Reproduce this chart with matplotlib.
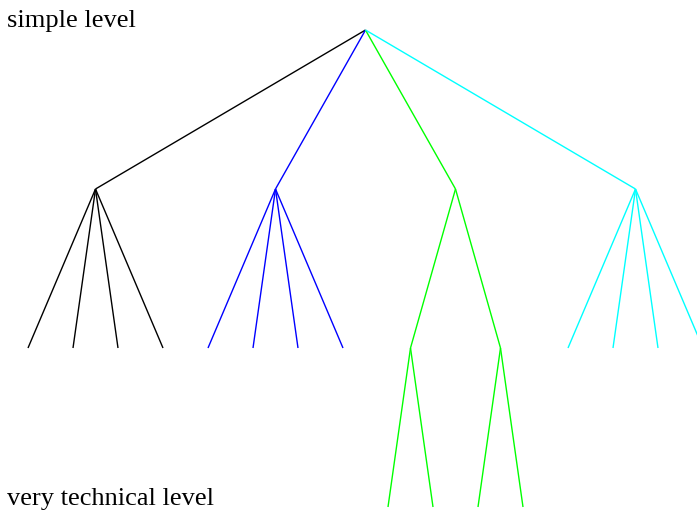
#!/usr/bin/env python3
"""Tree of topics, from the simple level down to the very technical level."""

import matplotlib
matplotlib.use("Agg")
import matplotlib.pyplot as plt


# one branch per colour below the root; an int is a node with that many leaves,
# a list is a node whose children are themselves nodes
branch_colors = ["black", "#0000ff", "#00ff00", "#00ffff"]
branch_children = [4, 4, [2, 2], 4]
top_label = "simple level"
bottom_label = "very technical level"


def layout(children, depth, counter, segments, color):
    """Return x of this node; leaves get consecutive slots, parents sit at the mean."""
    if isinstance(children, int):
        xs = []
        for _ in range(children):
            xs.append((counter[0], depth + 1))
            counter[0] += 1
    else:
        xs = [(layout(c, depth + 1, counter, segments, color), depth + 1) for c in children]
    x = sum(p[0] for p in xs) / len(xs)
    for cx, cy in xs:
        segments.append(((x, depth), (cx, cy), color))
    return x


def main() -> None:
    segments = []
    counter = [0]
    branch_x = []
    for kids, color in zip(branch_children, branch_colors):
        branch_x.append((layout(kids, 1, counter, segments, color), color))
    root_x = sum(b[0] for b in branch_x) / len(branch_x)
    for bx, color in branch_x:
        segments.append(((root_x, 0), (bx, 1), color))

    fig = plt.figure(figsize=(6.97, 5.13), dpi=100)
    ax = fig.add_axes([0, 0, 1, 1])
    for (x0, y0), (x1, y1), color in segments:
        ax.plot([x0, x1], [y0, y1], color=color, lw=1.0, solid_capstyle="butt")

    ax.set_xlim(-28 / 45, 669 / 45)
    ax.set_ylim(483 / 159, -30 / 159)
    ax.axis("off")

    font = dict(family=["Liberation Serif", "DejaVu Serif"], size=19, color="black")
    fig.text(7 / 697, 1 - 27 / 513, top_label, ha="left", va="baseline", **font)
    fig.text(7 / 697, 1 - 505 / 513, bottom_label, ha="left", va="baseline", **font)

    fig.savefig("out.png", dpi=100, facecolor="white")


if __name__ == "__main__":
    main()
